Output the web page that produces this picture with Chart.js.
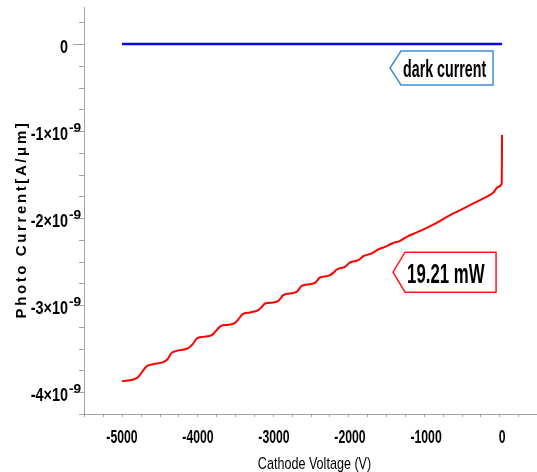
<!DOCTYPE html>
<html>
<head>
<meta charset="utf-8">
<script src="https://cdn.jsdelivr.net/npm/chart.js@4.4.1/dist/chart.umd.min.js"></script>
<style>
  html, body { margin: 0; padding: 0; background: #ffffff; }
  #wrap { width: 537px; height: 472px; }
</style>
</head>
<body>
<div id="wrap"><canvas id="c" width="537" height="472"></canvas></div>
<script>
// ---- data (current in units of 1e-9 A/μm) ----
const cathodeVoltage = [-5000, -4851, -4786, -4720, -4675, -4588, -4457, -4404, -4346, -4280, -4128, -4070, -4017, -3930, -3820, -3763, -3697, -3601, -3513, -3470, -3412, -3316, -3207, -3162, -3118, -3009, -2943, -2878, -2833, -2701, -2636, -2526, -2461, -2395, -2286, -2220, -2175, -2066, -2000, -1891, -1825, -1714, -1628, -1539, -1451, -1342, -1254, -1122, -991, -859, -707, -596, -421, -246, -114, -49, -4, 0];
const photoCurrent = [-3.874, -3.854, -3.824, -3.747, -3.701, -3.678, -3.655, -3.624, -3.548, -3.525, -3.494, -3.448, -3.383, -3.364, -3.345, -3.295, -3.238, -3.226, -3.203, -3.164, -3.103, -3.084, -3.057, -3.020, -2.980, -2.969, -2.951, -2.885, -2.870, -2.847, -2.778, -2.759, -2.744, -2.682, -2.663, -2.629, -2.590, -2.560, -2.509, -2.483, -2.437, -2.406, -2.360, -2.330, -2.291, -2.261, -2.215, -2.164, -2.111, -2.054, -1.977, -1.928, -1.851, -1.774, -1.705, -1.640, -1.601, -1.046];
const darkVoltage = [-5000, -4000, -3000, -2000, -1000, 0];
const darkCurrent = [0, 0, 0, 0, 0, 0];
const xMajorTicks = [-5000, -4000, -3000, -2000, -1000, 0];
const xTickLabels = ['-5000', '-4000', '-3000', '-2000', '-1000', '0'];
const yMajorTicks = [0, -1, -2, -3, -4];
const yTickLabels = ['0', '-1×10', '-2×10', '-3×10', '-4×10'];
const yTickExponent = ['', '-9', '-9', '-9', '-9'];
const darkLabel = 'dark current';
const powerLabel = '19.21 mW';

// ---- styles / layout ----
const AXIS_COLOR = '#a3a3a3';
const FONT = '"Liberation Sans", Arial, sans-serif';
const tags = [
  { text: darkLabel, x: -1474, y: -0.276, notch: 11, w: 103, h: 34, color: '#3d8fd6', size: 23, bold: true, sx: 0.62, dx: 13, dy: 9 },
  { text: powerLabel, x: -1434, y: -2.621, notch: 12, w: 103, h: 40, color: '#ff1a1a', size: 28, bold: true, sx: 0.6, dx: 14, dy: 11 }
];

function drawText(ctx, text, x, y, size, bold, sx, align) {
  ctx.save();
  ctx.font = (bold ? 'bold ' : '') + size + 'px ' + FONT;
  ctx.textBaseline = 'alphabetic';
  ctx.textAlign = 'left';
  const w = ctx.measureText(text).width * sx;
  let left = x;
  if (align === 'center') left = x - w / 2;
  if (align === 'right') left = x - w;
  ctx.translate(left, y);
  ctx.scale(sx, 1);
  ctx.fillText(text, 0, 0);
  ctx.restore();
  return w;
}

const decor = {
  id: 'decor',
  afterDraw(chart) {
    const { ctx, chartArea: a, scales: { x, y } } = chart;
    ctx.save();
    ctx.strokeStyle = AXIS_COLOR;
    ctx.lineWidth = 1;
    // x ticks
    x.ticks.forEach(t => {
      const major = xMajorTicks.includes(Math.round(t.value));
      const px = Math.round(x.getPixelForValue(t.value)) + 0.5;
      ctx.beginPath();
      ctx.moveTo(px, a.bottom);
      ctx.lineTo(px, a.bottom + (major ? 6 : 3));
      ctx.stroke();
    });
    // y ticks
    y.ticks.forEach(t => {
      const major = yMajorTicks.some(v => Math.abs(v - t.value) < 1e-6);
      const py = Math.round(y.getPixelForValue(t.value)) + 0.5;
      ctx.beginPath();
      ctx.moveTo(a.left, py);
      ctx.lineTo(a.left - (major ? 11 : 5), py);
      ctx.stroke();
    });
    ctx.fillStyle = '#000000';
    // x tick labels
    xMajorTicks.forEach((v, i) => {
      drawText(ctx, xTickLabels[i], x.getPixelForValue(v), a.bottom + 29, 18, true, 0.68, 'center');
    });
    // y tick labels
    yMajorTicks.forEach((v, i) => {
      const py = y.getPixelForValue(v);
      drawText(ctx, yTickLabels[i], a.left - 16, py + 9, 18, true, 0.8, 'right');
      if (yTickExponent[i]) drawText(ctx, yTickExponent[i], a.left - 15, py + 1, 12.5, true, 1.1, 'left');
    });
    // x title
    drawText(ctx, 'Cathode Voltage (V)', (a.left + a.right) / 2 + 4, 469, 17, false, 0.74, 'center');
    // y title
    ctx.save();
    ctx.translate(26, (a.top + a.bottom) / 2 + 9);
    ctx.rotate(-Math.PI / 2);
    ctx.font = 'bold 15px ' + FONT;
    const yt = 'Photo Current[A/μm]';
    const w0 = ctx.measureText(yt).width;
    if ('letterSpacing' in ctx) ctx.letterSpacing = ((198 - w0) / yt.length).toFixed(2) + 'px';
    ctx.textAlign = 'center';
    ctx.textBaseline = 'alphabetic';
    ctx.fillText(yt, 0, 0);
    ctx.restore();
    // tags
    tags.forEach(tg => {
      const tx = x.getPixelForValue(tg.x), ty = y.getPixelForValue(tg.y);
      const top = ty - tg.h / 2, bot = ty + tg.h / 2;
      ctx.beginPath();
      ctx.moveTo(tx, ty);
      ctx.lineTo(tx + tg.notch, top);
      ctx.lineTo(tx + tg.w, top);
      ctx.lineTo(tx + tg.w, bot);
      ctx.lineTo(tx + tg.notch, bot);
      ctx.closePath();
      ctx.fillStyle = '#ffffff';
      ctx.fill();
      ctx.lineWidth = 1.5;
      ctx.strokeStyle = tg.color;
      ctx.stroke();
      ctx.fillStyle = '#000000';
      drawText(ctx, tg.text, tx + tg.dx, ty + tg.dy, tg.size, tg.bold, tg.sx, 'left');
    });
    ctx.restore();
  }
};

new Chart(document.getElementById('c'), {
  type: 'line',
  data: {
    datasets: [
      {
        label: 'dark current',
        data: darkVoltage.map((v, i) => ({ x: v, y: darkCurrent[i] })),
        borderColor: '#0a0ae6',
        borderWidth: 2.5,
        pointRadius: 0,
        tension: 0
      },
      {
        label: '19.21 mW',
        data: cathodeVoltage.map((v, i) => ({ x: v, y: photoCurrent[i] })),
        borderColor: '#ff0000',
        borderWidth: 2,
        pointRadius: 0,
        cubicInterpolationMode: 'monotone'
      }
    ]
  },
  options: {
    responsive: false,
    animation: false,
    layout: { padding: { top: 7, right: 0, left: 0, bottom: 0 } },
    plugins: { legend: { display: false }, tooltip: { enabled: false } },
    scales: {
      x: {
        type: 'linear',
        min: -5500,
        max: 460,
        ticks: { stepSize: 250, includeBounds: false, display: false },
        grid: { display: false },
        border: { display: true, color: AXIS_COLOR, width: 1 },
        afterFit(s) { s.height = 58; }
      },
      y: {
        type: 'linear',
        min: -4.25,
        max: 0.425,
        ticks: { stepSize: 0.25, includeBounds: false, display: false },
        grid: { display: false },
        border: { display: true, color: AXIS_COLOR, width: 1 },
        afterFit(s) { s.width = 84; }
      }
    }
  },
  plugins: [decor]
});
</script>
</body>
</html>
